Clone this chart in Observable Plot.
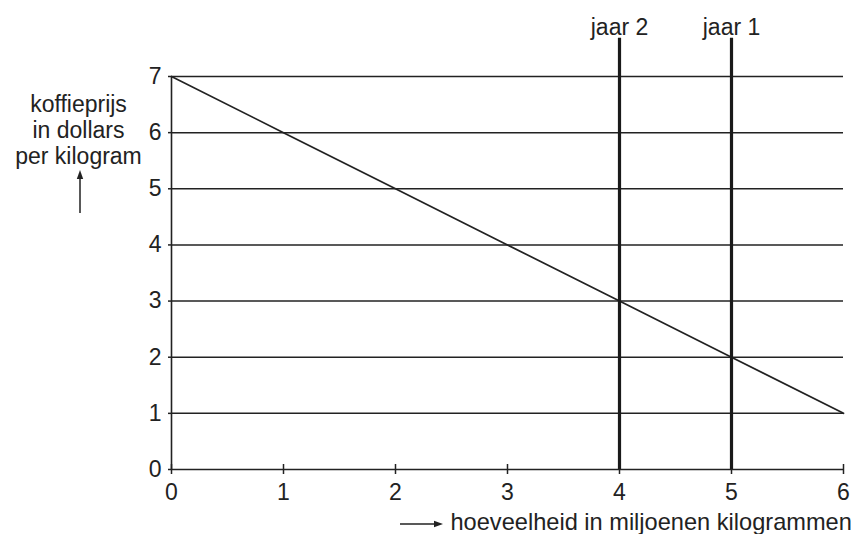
<!DOCTYPE html>
<html><head><meta charset="utf-8">
<script src="https://cdn.jsdelivr.net/npm/d3@7"></script>
<script src="https://cdn.jsdelivr.net/npm/@observablehq/plot@0.6"></script>
<style>body{margin:0;background:#fff}</style>
</head><body><div id="chart"></div>
<script>
const quantity = [0, 1, 2, 3, 4, 5, 6];
const price = [7, 6, 5, 4, 3, 2, 1];
const yearQuantity = [4, 5];
const yearLabels = ["jaar 2", "jaar 1"];
const xTicks = [0, 1, 2, 3, 4, 5, 6];
const yTicks = [0, 1, 2, 3, 4, 5, 6, 7];
const gridLevels = [1, 2, 3, 4, 5, 6, 7];
const yLabel = "koffieprijs\nin dollars\nper kilogram";
const xLabel = "hoeveelheid in miljoenen kilogrammen";

const demand = quantity.map((q, i) => ({q, p: price[i]}));
const years = yearQuantity.map((q, i) => ({q, label: yearLabels[i]}));
const ink = "#222";
const yearTop = 7.68;

const plot = Plot.plot({
  width: 857, height: 534,
  marginLeft: 171, marginRight: 14, marginTop: 76, marginBottom: 65,
  style: {fontFamily: "'Liberation Sans', Arial, sans-serif", fontSize: "23px", color: ink, background: "#fff", overflow: "visible"},
  x: {domain: [0, 6]},
  y: {domain: [0, 7]},
  marks: [
    Plot.ruleY(gridLevels, {x1: 0, x2: 6, stroke: ink, strokeWidth: 1.5}),
    Plot.ruleX([0], {y1: 0, y2: 7, stroke: ink, strokeWidth: 1.6}),
    Plot.ruleY([0], {x1: 0, x2: 6, stroke: ink, strokeWidth: 1.6}),
    Plot.axisY({ticks: yTicks, tickFormat: "d", tickSize: 3, tickPadding: 7, label: null, stroke: ink, strokeWidth: 1.5, fill: ink}),
    Plot.axisX({ticks: xTicks, tickFormat: "d", tickSize: 10, tickPadding: 9, dy: -5, label: null, stroke: ink, strokeWidth: 1.5, fill: ink}),
    Plot.line(demand, {x: "q", y: "p", stroke: ink, strokeWidth: 1.7}),
    Plot.ruleX(years, {x: "q", y1: 0, y2: yearTop, stroke: "#1a1a1a", strokeWidth: 3.2}),
    Plot.text(years, {x: "q", y: yearTop, text: "label", lineAnchor: "bottom", dy: -3, fill: ink}),
    Plot.text([yLabel], {text: d => d, frameAnchor: "top-left", dx: -93, dy: 53, lineAnchor: "middle", textAnchor: "middle", lineHeight: 1.15, fill: ink}),
    Plot.text([xLabel], {text: d => d, frameAnchor: "bottom-left", dx: 279, dy: 53, lineAnchor: "middle", textAnchor: "start", fill: ink, fontSize: 23.6})
  ]
});
document.getElementById("chart").appendChild(plot);

// annotation arrows
const svg = d3.select(plot);
function arrow(x1, y1, x2, y2) {
  const g = svg.append("g").attr("stroke", ink).attr("fill", ink);
  const a = Math.atan2(y2 - y1, x2 - x1), L = 9, W = 3.2;
  const bx = x2 - L * Math.cos(a), by = y2 - L * Math.sin(a);
  g.append("line").attr("x1", x1).attr("y1", y1).attr("x2", bx).attr("y2", by).attr("stroke-width", 1.5);
  g.append("path").attr("stroke", "none").attr("d",
    `M${x2},${y2}L${bx - W * Math.sin(a)},${by + W * Math.cos(a)}L${bx + W * Math.sin(a)},${by - W * Math.cos(a)}Z`);
}
arrow(80, 213, 80, 170);
arrow(400, 524, 443, 524);
</script>
</body></html>
